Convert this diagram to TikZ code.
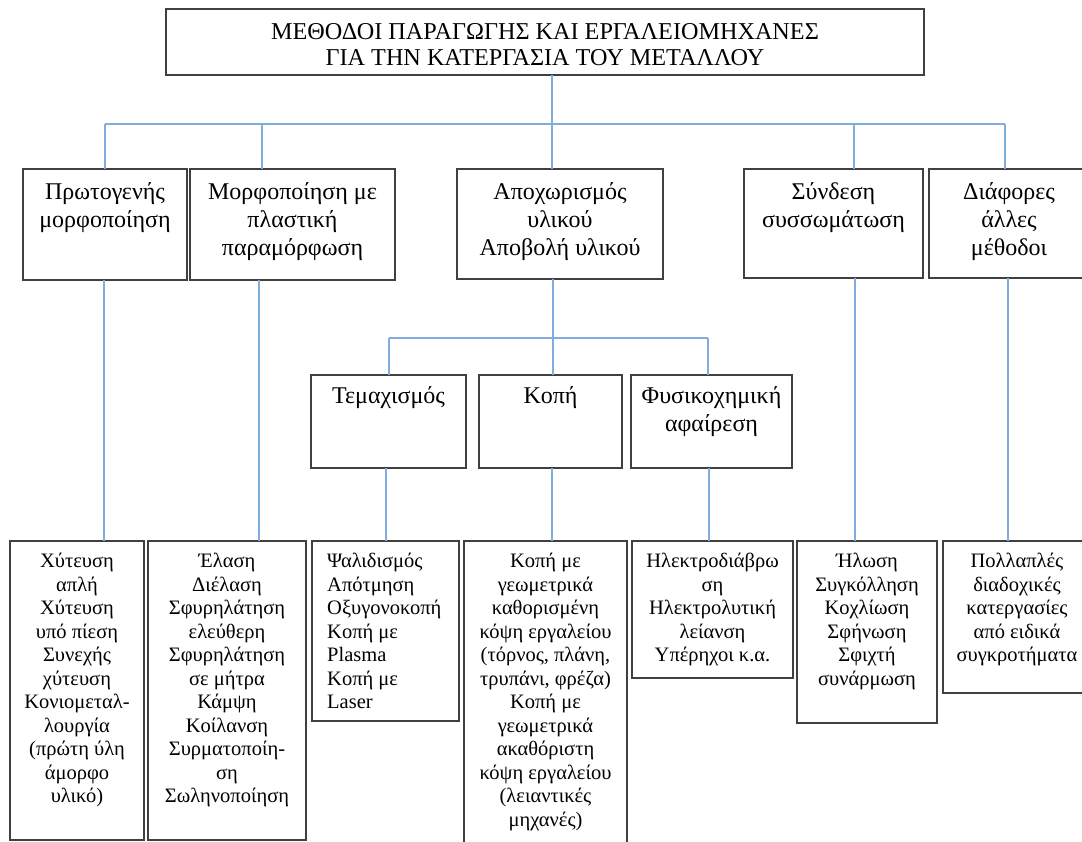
\documentclass[tikz,border=0pt]{standalone}
\usepackage{fontspec}
\setmainfont{Liberation Serif}
\usetikzlibrary{positioning}
\definecolor{linkblue}{RGB}{128,172,224}
\definecolor{boxgray}{RGB}{64,64,64}

\begin{document}
\begin{tikzpicture}[x=1pt, y=-1pt,
    box/.style 2 args={draw=boxgray, line width=1.5pt, inner sep=0pt, outer sep=0pt,
        anchor=north west, minimum width=#1, minimum height=#2},
    txt/.style={inner sep=0pt, align=center, text=black},
    big/.style={font=\fontsize{24}{28}\selectfont},
    head/.style={font=\fontsize{24.2}{26.5}\selectfont},
    small/.style={font=\fontsize{20.5}{23.5}\selectfont},
    link/.style={draw=linkblue, line width=1.8pt}]
    \clip (0,0) rectangle (1082,842);
    % Add the boxes
    \node[box={758pt}{66pt}] (t0) at (166,9) {};
    % first level
    \node[box={164pt}{111pt}] (h1) at (23,169) {};
    \node[right=3pt of h1.north east,
        box={205pt}{111pt}
        ] (h2) {};
    \node[box={206pt}{110pt}] (h3) at (457,169) {};
    \node[box={179pt}{109pt}] (h4) at (744,169) {};
    \node[right=6pt of h4.north east,
        box={160pt}{109pt}
        ] (h5) {};
    % second level
    \node[box={155pt}{93pt}] (m1) at (311,375) {};
    \node[box={143pt}{93pt}] (m2) at (479,375) {};
    \node[right=9pt of m2.north east,
        box={161pt}{93pt}
        ] (m3) {};
    % third level
    \node[box={134pt}{299pt}] (l1) at (10,541) {};
    \node[right=4pt of l1.north east,
        box={158pt}{299pt}
        ] (l2) {};
    \node[right=6pt of l2.north east,
        box={147pt}{180pt}
        ] (l3) {};
    \node[right=5pt of l3.north east,
        box={163pt}{320pt}
        ] (l4) {};
    \node[right=5pt of l4.north east,
        box={161pt}{137pt}
        ] (l5) {};
    \node[right=4pt of l5.north east,
        box={140pt}{182pt}
        ] (l6) {};
    \node[right=6pt of l6.north east,
        box={148pt}{152pt}
        ] (l7) {};

    % Add the texts
    \node[txt, head, below=14pt of t0.north] (t0t)
        {ΜΕΘΟΔΟΙ ΠΑΡΑΓΩΓΗΣ ΚΑΙ ΕΡΓΑΛΕΙΟΜΗΧΑΝΕΣ\\ΓΙΑ ΤΗΝ ΚΑΤΕΡΓΑΣΙΑ ΤΟΥ ΜΕΤΑΛΛΟΥ};
    \node[txt, big, below=13pt of h1.north] (h1t) {Πρωτογενής\\μορφοποίηση};
    \node[txt, big, below=13pt of h2.north] (h2t) {Μορφοποίηση με\\πλαστική\\παραμόρφωση};
    \node[txt, big, below=13pt of h3.north] (h3t) {Αποχωρισμός\\υλικού\\Αποβολή υλικού};
    \node[txt, big, below=13pt of h4.north] (h4t) {Σύνδεση\\συσσωμάτωση};
    \node[txt, big, below=13pt of h5.north] (h5t) {Διάφορες\\άλλες\\μέθοδοι};
    \node[txt, big, below=11pt of m1.north] (m1t) {Τεμαχισμός};
    \node[txt, big, below=11pt of m2.north] (m2t) {Κοπή};
    \node[txt, big, below=11pt of m3.north] (m3t) {Φυσικοχημική\\αφαίρεση};
    \node[txt, small, below=12pt of l1.north] (l1t)
        {Χύτευση\\απλή\\Χύτευση\\υπό πίεση\\Συνεχής\\χύτευση\\Κονιομεταλ-\\λουργία\\(πρώτη ύλη\\άμορφο\\υλικό)};
    \node[txt, small, below=12pt of l2.north] (l2t)
        {Έλαση\\Διέλαση\\Σφυρηλάτηση\\ελεύθερη\\Σφυρηλάτηση\\σε μήτρα\\Κάμψη\\Κοίλανση\\Συρματοποίη-\\ση\\Σωληνοποίηση};
    \node[txt, small, align=left, anchor=north west,
        below right=12pt and 15pt of l3.north west] (l3t)
        {Ψαλιδισμός\\Απότμηση\\Οξυγονοκοπή\\Κοπή με\\Plasma\\Κοπή με\\Laser};
    \node[txt, small, below=12pt of l4.north] (l4t)
        {Κοπή με\\γεωμετρικά\\καθορισμένη\\κόψη εργαλείου\\(τόρνος, πλάνη,\\τρυπάνι, φρέζα)\\Κοπή με\\γεωμετρικά\\ακαθόριστη\\κόψη εργαλείου\\(λειαντικές\\μηχανές)};
    \node[txt, small, below=12pt of l5.north] (l5t)
        {Ηλεκτροδιάβρω\\ση\\Ηλεκτρολυτική\\λείανση\\Υπέρηχοι κ.α.};
    \node[txt, small, below=12pt of l6.north] (l6t)
        {Ήλωση\\Συγκόλληση\\Κοχλίωση\\Σφήνωση\\Σφιχτή\\συνάρμωση};
    \node[txt, small, below=12pt of l7.north] (l7t)
        {Πολλαπλές\\διαδοχικές\\κατεργασίες\\από ειδικά\\συγκροτήματα};

    % Connect them
    \coordinate (jA) at (105,124);
    \coordinate (jB) at (262,124);
    \coordinate (jC) at (552,124);
    \coordinate (jD) at (854,124);
    \coordinate (jE) at (1005,124);
    \draw[link] (jA) -- (jE);
    \draw[link] (t0.south -| jC) -- (jC |- h3.north);
    \foreach \j/\n in {jA/h1, jB/h2, jD/h4, jE/h5}
        \draw[link] (\j) -- (\j |- \n.north);
    \coordinate (n1) at (389,338);
    \coordinate (n2) at (553,338);
    \coordinate (n3) at (708,338);
    \draw[link] (n1) -- (n3);
    \draw[link] (h3.south -| n2) -- (n2 |- m2.north);
    \draw[link] (n1) -- (n1 |- m1.north);
    \draw[link] (n3) -- (n3 |- m3.north);
    \foreach \x/\a/\b in {104/h1/l1, 259/h2/l2, 386/m1/l3, 552/m2/l4,
                          709/m3/l5, 855/h4/l6, 1008/h5/l7}{
        \coordinate (k) at (\x,0);
        \draw[link] (\a.south -| k) -- (k |- \b.north);
    }
\end{tikzpicture}
\end{document}
